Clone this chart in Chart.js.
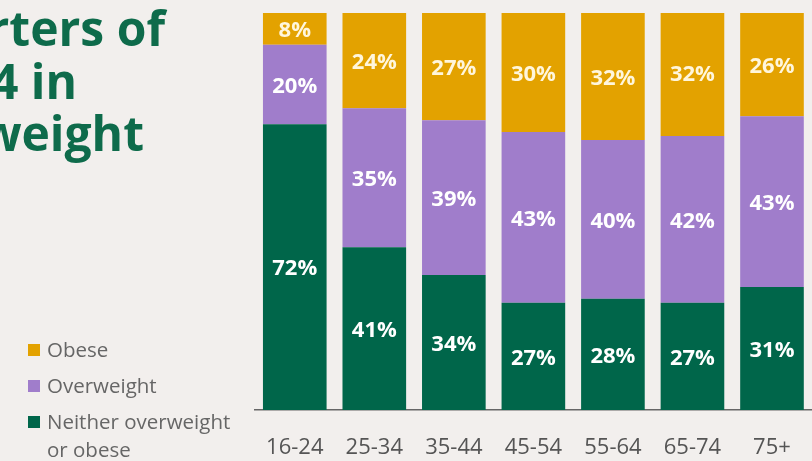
<!DOCTYPE html>
<html>
<head>
<meta charset="utf-8">
<script src="https://cdn.jsdelivr.net/npm/chart.js@4"></script>
<style>
  html, body { margin: 0; padding: 0; background: #f2efed; overflow: hidden; }
  .wrap { position: relative; width: 816px; height: 461px; }
  canvas { position: absolute; left: 0; top: 0; }
  .title { position: absolute; font-family: "Open Sans", sans-serif; font-weight: 700; font-size: 48px; color: #0e6b4b; white-space: nowrap; text-align: right; line-height: 53px; }
  .legend { position: absolute; left: 28px; top: 335px; font-family: "Open Sans", sans-serif; font-size: 20.5px; color: #666; }
  .legend div { position: relative; padding-left: 19px; line-height: 28px; margin-bottom: 8px; }
  .legend span { position: absolute; left: 0; top: 9px; width: 12px; height: 12px; }
</style>
</head>
<body>
<div class="wrap">
  <canvas id="myChart" width="816" height="461"></canvas>
  <div class="title" style="right:651px; top:1px;">Three quarters of</div>
  <div class="title" style="right:739px; top:54px;">16-24 in</div>
  <div class="title" style="right:672px; top:106px;">overweight</div>
  <div class="legend" id="legend"></div>
</div>
<script>
var ageGroups = ["16-24", "25-34", "35-44", "45-54", "55-64", "65-74", "75+"];
var neither = [72, 41, 34, 27, 28, 27, 31];
var overweight = [20, 35, 39, 43, 40, 42, 43];
var obese = [8, 24, 27, 30, 32, 32, 26];

var seriesNames = ["Neither overweight or obese", "Overweight", "Obese"];
var colors = ["#00664a", "#a07dcb", "#e3a200"];

// legend on the left, obese first like the picture
var legend = document.getElementById("legend");
legend.innerHTML = `
  <div><span style="background:${colors[2]}"></span>Obese</div>
  <div><span style="background:${colors[1]}"></span>Overweight</div>
  <div><span style="background:${colors[0]}"></span>Neither overweight<br>or obese</div>
`;

// writes the % inside every segment
var valueLabels = {
  id: "valueLabels",
  afterDatasetsDraw(chart) {
    var ctx = chart.ctx;
    ctx.save();
    ctx.font = "bold 22px 'Open Sans'";
    ctx.textAlign = "center";
    ctx.textBaseline = "middle";
    chart.data.datasets.forEach(function (ds, i) {
      chart.getDatasetMeta(i).data.forEach(function (bar, j) {
        var mid = (bar.y + bar.base) / 2 + 2;
        ctx.fillStyle = i == 2 ? "#fff6dc" : "#ffffff";
        ctx.fillText(ds.data[j] + "%", bar.x, mid);
      });
    });
    ctx.restore();
  }
};

var chart = document.getElementById("myChart").getContext("2d");
new Chart(chart, {
  type: "bar",
  data: {
    labels: ageGroups,
    datasets: [
      { label: seriesNames[0], data: neither, backgroundColor: colors[0] },
      { label: seriesNames[1], data: overweight, backgroundColor: colors[1] },
      { label: seriesNames[2], data: obese, backgroundColor: colors[2] }
    ]
  },
  options: {
    responsive: false,
    animation: false,
    layout: { padding: { left: 255, top: 13, right: 2, bottom: 0 } },
    datasets: { bar: { barPercentage: 0.8, categoryPercentage: 1, borderWidth: 0 } },
    plugins: { legend: { display: false }, tooltip: { enabled: false } },
    scales: {
      x: {
        stacked: true,
        grid: { display: false, drawTicks: false },
        border: { display: true, color: "#666", width: 1.5 },
        ticks: { color: "#555", font: { family: "Open Sans", size: 22 }, padding: 25 },
        afterFit: function (scale) { scale.height = 51; }
      },
      y: {
        stacked: true,
        min: 0,
        max: 100,
        display: false
      }
    }
  },
  plugins: [valueLabels]
});
</script>
</body>
</html>
